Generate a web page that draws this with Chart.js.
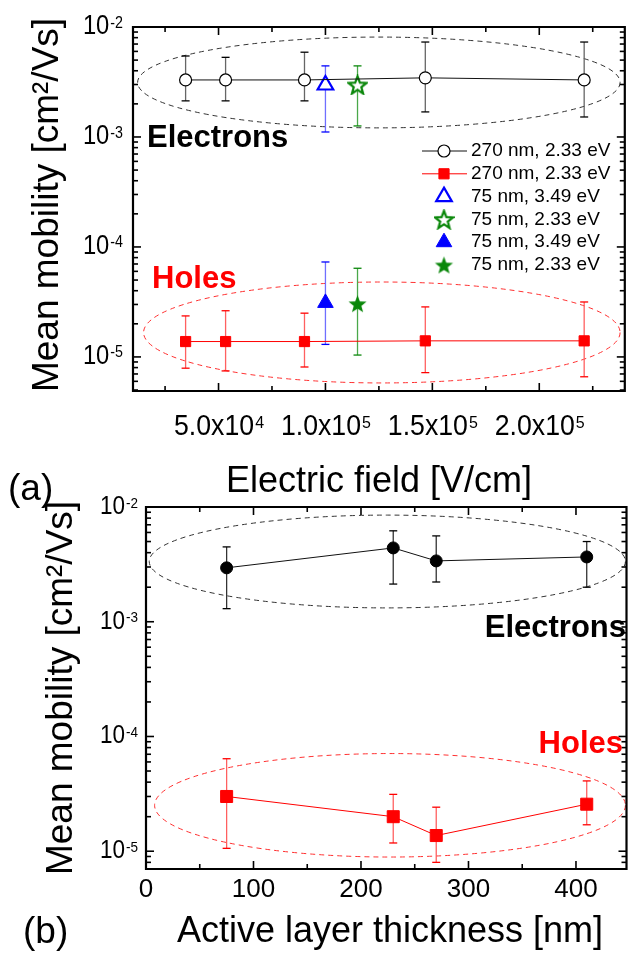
<!DOCTYPE html>
<html>
<head>
<meta charset="utf-8">
<script src="https://cdn.jsdelivr.net/npm/chart.js@4.4.0/dist/chart.umd.min.js"></script>
<style>
  html, body { margin: 0; padding: 0; background: #fff; }
  .wrap { position: relative; width: 636px; height: 961px; overflow: hidden; }
  canvas { position: absolute; left: 0; }
  #chartA { top: 0; }
  #chartB { top: 485px; }
</style>
</head>
<body>
<div class="wrap">
  <canvas id="chartA" width="636" height="515"></canvas>
  <canvas id="chartB" width="636" height="476"></canvas>
</div>
<script>
const FONT = '"Liberation Sans", Arial, Helvetica, sans-serif';

// (a) mean mobility vs electric field, 270 nm device
const fieldA = [34600, 53300, 90200, 146700, 221000];
const electronA = [3.3e-3, 3.3e-3, 3.3e-3, 3.45e-3, 3.3e-3];
const electronAHigh = [5.45e-3, 5.3e-3, 5.9e-3, 7.3e-3, 7.3e-3];
const electronALow = [2.13e-3, 2.13e-3, 2.13e-3, 1.69e-3, 1.52e-3];
const holeA = [1.38e-5, 1.38e-5, 1.38e-5, 1.4e-5, 1.4e-5];
const holeAHigh = [2.36e-5, 2.63e-5, 2.5e-5, 2.85e-5, 3.16e-5];
const holeALow = [7.9e-6, 7.46e-6, 8.1e-6, 7.2e-6, 6.6e-6];
// 75 nm device: [3.49 eV, 2.33 eV]
const thinField = [100000, 115000];
const thinElectron = [2.97e-3, 2.97e-3];
const thinElectronHigh = [4.43e-3, 4.43e-3];
const thinElectronLow = [1.11e-3, 1.26e-3];
const thinHole = [3.1e-5, 3.05e-5];
const thinHoleHigh = [7.3e-5, 6.4e-5];
const thinHoleLow = [1.3e-5, 1.04e-5];
const legendA = ['270 nm, 2.33 eV', '270 nm, 2.33 eV', '75 nm, 3.49 eV', '75 nm, 2.33 eV', '75 nm, 3.49 eV', '75 nm, 2.33 eV'];
const xTicksA = [5e4, 1e5, 1.5e5, 2e5];
const xMinorA = [2.5e4, 7.5e4, 1.25e5, 1.75e5, 2.25e5];
const xTickTextA = [['5.0x10', '4'], ['1.0x10', '5'], ['1.5x10', '5'], ['2.0x10', '5']];
const yTicks = [1e-2, 1e-3, 1e-4, 1e-5];
const yTickText = [['10', '-2'], ['10', '-3'], ['10', '-4'], ['10', '-5']];

// (b) mean mobility vs active layer thickness
const thickness = [75, 230, 270, 410];
const electronB = [2.95e-3, 4.4e-3, 3.39e-3, 3.67e-3];
const electronBHigh = [4.49e-3, 6.2e-3, 5.6e-3, 5.0e-3];
const electronBLow = [1.3e-3, 2.13e-3, 2.22e-3, 2.0e-3];
const holeB = [3.0e-5, 2.0e-5, 1.37e-5, 2.57e-5];
const holeBHigh = [6.4e-5, 3.13e-5, 2.42e-5, 4.1e-5];
const holeBLow = [1.06e-5, 1.18e-5, 8.0e-6, 1.7e-5];
const xTicksB = [0, 100, 200, 300, 400];
const xMinorB = [50, 150, 250, 350];
const xTickTextB = ['0', '100', '200', '300', '400'];

const GREEN = '#0a870a';
const BLUE = '#0000ff';
const RED = '#ff0000';

function points(xs, ys) {
  return xs.map((x, i) => ({ x: x, y: ys[i] }));
}

function makeStar(filled) {
  const size = 21;
  const c = document.createElement('canvas');
  c.width = size;
  c.height = size;
  const g = c.getContext('2d');
  const R = 9.5, r = 4;
  const cx = size / 2, cy = size / 2 + 0.9;
  g.beginPath();
  for (let i = 0; i < 10; i++) {
    const a = -Math.PI / 2 + i * Math.PI / 5;
    const rad = i % 2 ? r : R;
    g.lineTo(cx + rad * Math.cos(a), cy + rad * Math.sin(a));
  }
  g.closePath();
  if (filled) {
    g.fillStyle = GREEN;
    g.fill();
  } else {
    g.fillStyle = '#fff';
    g.fill();
    g.lineWidth = 2.2;
    g.strokeStyle = GREEN;
    g.stroke();
  }
  return c;
}

// text helper: sx squeezes the glyphs horizontally like the original figure
function text(ctx, str, x, y, o) {
  ctx.save();
  ctx.font = (o.bold ? 'bold ' : '') + o.size + 'px ' + FONT;
  ctx.fillStyle = o.color || '#000';
  ctx.textBaseline = o.baseline || 'alphabetic';
  ctx.textAlign = o.align || 'left';
  ctx.translate(x, y);
  if (o.rotate) ctx.rotate(o.rotate);
  ctx.scale(o.sx || 1, 1);
  ctx.fillText(str, 0, 0);
  ctx.restore();
}

function textWidth(ctx, str, size, sx) {
  ctx.save();
  ctx.font = size + 'px ' + FONT;
  const w = ctx.measureText(str).width * (sx || 1);
  ctx.restore();
  return w;
}

// "10" with a raised exponent, centred on y
function powLabel(ctx, base, exp, x, y, o) {
  const es = o.size * 0.6;
  const wb = textWidth(ctx, base, o.size, o.sx);
  const we = textWidth(ctx, exp, es, o.sx);
  let left = x;
  if (o.align === 'center') left = x - (wb + we) / 2;
  if (o.align === 'right') left = x - wb - we;
  text(ctx, base, left, y, { size: o.size, sx: o.sx, baseline: 'middle' });
  text(ctx, exp, left + wb + 1, y + o.size * 0.02, { size: es, sx: o.sx });
}

function seg(ctx, x0, y0, x1, y1) {
  ctx.beginPath();
  ctx.moveTo(x0, y0);
  ctx.lineTo(x1, y1);
  ctx.stroke();
}

function drawMarker(ctx, ds, x, y) {
  const r = ds.pointRadius;
  const style = ds.pointStyle;
  ctx.save();
  if (style instanceof HTMLCanvasElement) {
    ctx.drawImage(style, x - style.width / 2, y - style.height / 2);
    ctx.restore();
    return;
  }
  ctx.fillStyle = ds.pointBackgroundColor;
  ctx.strokeStyle = ds.pointBorderColor;
  ctx.lineWidth = ds.pointBorderWidth;
  ctx.beginPath();
  if (style === 'circle') {
    ctx.arc(x, y, r, 0, Math.PI * 2);
  } else if (style === 'rect') {
    const s = r * Math.SQRT1_2;
    ctx.rect(x - s, y - s, 2 * s, 2 * s);
  } else if (style === 'triangle') {
    for (let i = 0; i < 3; i++) {
      const a = i * 2 * Math.PI / 3;
      ctx.lineTo(x + Math.sin(a) * r, y - Math.cos(a) * r);
    }
    ctx.closePath();
  }
  ctx.fill();
  ctx.stroke();
  ctx.restore();
}

// frame and inward ticks, placed from the scales themselves
function drawFrame(chart, cfg) {
  const { ctx, scales: { x, y } } = chart;
  const L = x.getPixelForValue(x.min), R = x.getPixelForValue(x.max);
  const T = y.getPixelForValue(y.max), B = y.getPixelForValue(y.min);
  ctx.save();
  ctx.setLineDash([]);
  ctx.strokeStyle = '#000000';
  ctx.lineWidth = 2.2;
  ctx.beginPath();
  ctx.rect(L, T, R - L, B - T);
  ctx.stroke();
  ctx.lineWidth = 1.6;
  cfg.xTicks.forEach(v => {
    const px = x.getPixelForValue(v);
    seg(ctx, px, B, px, B - 8);
    seg(ctx, px, T, px, T + 8);
  });
  cfg.xMinor.forEach(v => {
    const px = x.getPixelForValue(v);
    seg(ctx, px, B, px, B - 5);
    seg(ctx, px, T, px, T + 5);
  });
  for (let d = -6; d <= -2; d++) {
    for (let m = 1; m <= 9; m++) {
      const v = m * Math.pow(10, d);
      if (v <= y.min * 1.001 || v >= y.max * 0.999) continue;
      const py = y.getPixelForValue(v);
      const len = m === 1 ? 8 : 5;
      seg(ctx, L, py, L + len, py);
      seg(ctx, R, py, R - len, py);
    }
  }
  ctx.restore();
}

function decor(cfg) {
  return {
    id: 'decor' + cfg.panel,
    beforeDatasetsDraw(chart) {
      const { ctx, scales: { x, y } } = chart;
      ctx.save();
      // guide ellipses around the electron / hole groups
      cfg.ellipses.forEach(e => {
        const l = x.getPixelForValue(e.x0), r = x.getPixelForValue(e.x1);
        const t = y.getPixelForValue(e.y1), b = y.getPixelForValue(e.y0);
        ctx.strokeStyle = e.color;
        ctx.lineWidth = 1;
        ctx.setLineDash([5, 4]);
        ctx.beginPath();
        ctx.ellipse((l + r) / 2, (t + b) / 2, (r - l) / 2, (b - t) / 2, 0, 0, Math.PI * 2);
        ctx.stroke();
      });
      ctx.setLineDash([]);
      // error bars
      chart.data.datasets.forEach(ds => {
        if (!ds.errLow) return;
        ds.data.forEach((p, i) => {
          const px = x.getPixelForValue(p.x);
          const lo = y.getPixelForValue(ds.errLow[i]);
          const hi = y.getPixelForValue(ds.errHigh[i]);
          ctx.lineWidth = 1.3;
          ctx.strokeStyle = ds.errColor;
          seg(ctx, px, lo, px, hi);
          ctx.strokeStyle = ds.capColor;
          seg(ctx, px - 4, lo, px + 4, lo);
          seg(ctx, px - 4, hi, px + 4, hi);
        });
      });
      ctx.restore();
    },
    afterDraw(chart) {
      const { ctx, scales: { x, y } } = chart;
      drawFrame(chart, cfg);

      // tick labels
      yTicks.forEach((v, i) => {
        powLabel(ctx, yTickText[i][0], yTickText[i][1], cfg.yLabelRight, y.getPixelForValue(v),
          { size: cfg.yLabelSize, sx: cfg.yLabelSx, align: 'right' });
      });
      cfg.xTicks.forEach((v, i) => {
        const lab = cfg.xTickText[i];
        if (Array.isArray(lab)) {
          powLabel(ctx, lab[0], lab[1], x.getPixelForValue(v), cfg.xLabelY,
            { size: cfg.xLabelSize, sx: cfg.xLabelSx, align: 'center' });
        } else {
          text(ctx, lab, x.getPixelForValue(v), cfg.xLabelY,
            { size: cfg.xLabelSize, sx: cfg.xLabelSx, align: 'center', baseline: 'middle' });
        }
      });

      // axis titles and panel letter
      text(ctx, 'Mean mobility [cm\u00B2/Vs]', cfg.yTitleX, cfg.yTitleY,
        { size: 37, align: 'center', rotate: -Math.PI / 2 });
      text(ctx, cfg.xTitle, cfg.xTitleX, cfg.xTitleY, { size: 36, align: 'center' });
      text(ctx, cfg.panel, cfg.panelX, cfg.panelY, { size: 37 });

      cfg.notes.forEach(n => {
        text(ctx, n.text, n.x, n.y, { size: 31, bold: true, color: n.color, align: n.align });
      });

      // legend
      if (cfg.legend) {
        const G = cfg.legend;
        chart.data.datasets.forEach((ds, i) => {
          const ly = G.top + i * G.step;
          if (ds.showLine) {
            ctx.save();
            ctx.strokeStyle = ds.borderColor;
            ctx.lineWidth = 1;
            seg(ctx, G.lineX0, ly, G.lineX1, ly);
            ctx.restore();
          }
          drawMarker(ctx, ds, G.markX, ly);
          text(ctx, ds.label, G.textX, ly, { size: 19, baseline: 'middle' });
        });
      }
    }
  };
}

const openStar = makeStar(false);
const fullStar = makeStar(true);

new Chart(document.getElementById('chartA'), {
  type: 'scatter',
  data: {
    datasets: [
      {
        label: legendA[0], data: points(fieldA, electronA), showLine: true,
        borderColor: '#111', borderWidth: 1,
        pointStyle: 'circle', pointRadius: 6, pointBackgroundColor: '#fff',
        pointBorderColor: '#000', pointBorderWidth: 1.2,
        errLow: electronALow, errHigh: electronAHigh, errColor: '#666', capColor: '#000'
      },
      {
        label: legendA[1], data: points(fieldA, holeA), showLine: true,
        borderColor: RED, borderWidth: 1,
        pointStyle: 'rect', pointRadius: 7.2, pointBackgroundColor: RED,
        pointBorderColor: RED, pointBorderWidth: 1,
        errLow: holeALow, errHigh: holeAHigh, errColor: '#ff6060', capColor: RED
      },
      {
        label: legendA[2], data: points([thinField[0]], [thinElectron[0]]), showLine: false,
        pointStyle: 'triangle', pointRadius: 9, pointBackgroundColor: '#fff',
        pointBorderColor: BLUE, pointBorderWidth: 2.2,
        errLow: [thinElectronLow[0]], errHigh: [thinElectronHigh[0]], errColor: '#6f6fff', capColor: BLUE
      },
      {
        label: legendA[3], data: points([thinField[1]], [thinElectron[1]]), showLine: false,
        pointStyle: openStar, pointRadius: 9,
        errLow: [thinElectronLow[1]], errHigh: [thinElectronHigh[1]], errColor: '#4aa84a', capColor: GREEN
      },
      {
        label: legendA[4], data: points([thinField[0]], [thinHole[0]]), showLine: false,
        pointStyle: 'triangle', pointRadius: 9, pointBackgroundColor: BLUE,
        pointBorderColor: BLUE, pointBorderWidth: 1,
        errLow: [thinHoleLow[0]], errHigh: [thinHoleHigh[0]], errColor: '#6f6fff', capColor: BLUE
      },
      {
        label: legendA[5], data: points([thinField[1]], [thinHole[1]]), showLine: false,
        pointStyle: fullStar, pointRadius: 9,
        errLow: [thinHoleLow[1]], errHigh: [thinHoleHigh[1]], errColor: '#4aa84a', capColor: GREEN
      }
    ]
  },
  options: {
    responsive: false,
    animation: false,
    layout: { padding: { left: 133, top: 27, right: 11, bottom: 124 } },
    plugins: { legend: { display: false }, tooltip: { enabled: false } },
    scales: {
      x: { type: 'linear', display: false, min: 1e4, max: 2.4e5 },
      y: { type: 'logarithmic', display: false, min: 4.9e-6, max: 1e-2 }
    }
  },
  plugins: [decor({
    ellipses: [
      { x0: 12150, x1: 237800, y0: 1.21e-3, y1: 8.1e-3, color: '#333' },
      { x0: 14950, x1: 237800, y0: 5.8e-6, y1: 4.8e-5, color: '#ff3030' }
    ],
    xTicks: xTicksA, xMinor: xMinorA, xTickText: xTickTextA,
    xLabelY: 427, xLabelSize: 29, xLabelSx: 0.92,
    yLabelRight: 122, yLabelSize: 27, yLabelSx: 0.88,
    yTitleX: 58, yTitleY: 205,
    xTitle: 'Electric field [V/cm]', xTitleX: 379, xTitleY: 492,
    panel: '(a)', panelX: 8, panelY: 500,
    notes: [
      { text: 'Electrons', x: 147, y: 147, color: '#000', align: 'left' },
      { text: 'Holes', x: 152, y: 288, color: RED, align: 'left' }
    ],
    legend: { top: 151, step: 22.8, lineX0: 422, lineX1: 467, markX: 444, textX: 471 }
  })]
});

new Chart(document.getElementById('chartB'), {
  type: 'scatter',
  data: {
    datasets: [
      {
        label: 'Electrons', data: points(thickness, electronB), showLine: true,
        borderColor: '#111', borderWidth: 1,
        pointStyle: 'circle', pointRadius: 6, pointBackgroundColor: '#000',
        pointBorderColor: '#000', pointBorderWidth: 1,
        errLow: electronBLow, errHigh: electronBHigh, errColor: '#333', capColor: '#000'
      },
      {
        label: 'Holes', data: points(thickness, holeB), showLine: true,
        borderColor: RED, borderWidth: 1,
        pointStyle: 'rect', pointRadius: 8.5, pointBackgroundColor: RED,
        pointBorderColor: RED, pointBorderWidth: 1,
        errLow: holeBLow, errHigh: holeBHigh, errColor: '#ff6060', capColor: RED
      }
    ]
  },
  options: {
    responsive: false,
    animation: false,
    layout: { padding: { left: 146, top: 22, right: 2, bottom: 92 } },
    plugins: { legend: { display: false }, tooltip: { enabled: false } },
    scales: {
      x: { type: 'linear', display: false, min: 0, max: 447 },
      y: { type: 'logarithmic', display: false, min: 7e-6, max: 1e-2 }
    }
  },
  plugins: [decor({
    ellipses: [
      { x0: 3, x1: 446, y0: 1.32e-3, y1: 8.5e-3, color: '#333' },
      { x0: 8, x1: 446, y0: 8.9e-6, y1: 7.1e-5, color: '#ff3030' }
    ],
    xTicks: xTicksB, xMinor: xMinorB, xTickText: xTickTextB,
    xLabelY: 405, xLabelSize: 26, xLabelSx: 1,
    yLabelRight: 137, yLabelSize: 25, yLabelSx: 0.9,
    yTitleX: 72, yTitleY: 203,
    xTitle: 'Active layer thickness [nm]', xTitleX: 390, xTitleY: 457,
    panel: '(b)', panelX: 23, panelY: 458,
    notes: [
      { text: 'Electrons', x: 626, y: 152, color: '#000', align: 'right' },
      { text: 'Holes', x: 623, y: 268, color: RED, align: 'right' }
    ],
    legend: null
  })]
});
</script>
</body>
</html>
